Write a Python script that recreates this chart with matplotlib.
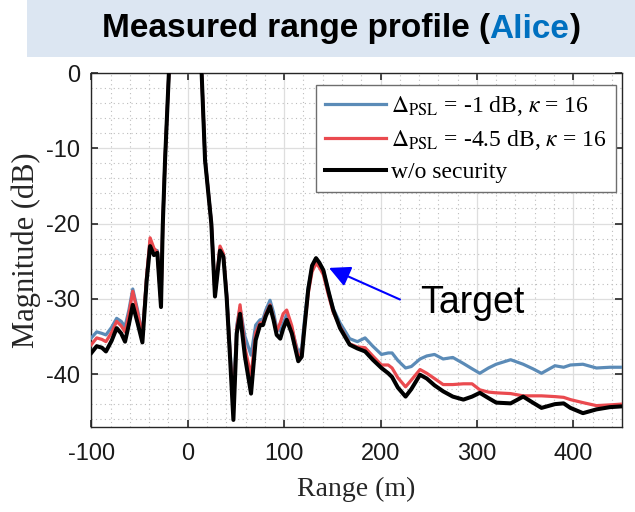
import matplotlib
matplotlib.use("Agg")
import matplotlib.pyplot as plt
from matplotlib.patches import Rectangle
from matplotlib.ticker import MultipleLocator

# ---------------- data ----------------
range_m = [-100, -94.4, -89, -84.8, -79, -73.7, -69, -65, -61, -57, -52, -47, -42.5, -39, -35,
           -31.5, -27.7, -25.9, -23.5, -19, -3, 14, 18, 24.5, 28.3, 33.5, 37, 40.5, 44, 47.4,
           50.9, 54.3, 59.4, 65.7, 70.5, 75, 78, 81, 85.4, 89, 92.3, 96, 99, 102.7, 108, 114.7,
           118.3, 121, 125, 129, 133.1, 136.5, 140.7, 146, 151, 158, 168, 176, 184, 192, 201, 208,
           212, 218, 226, 232, 241, 248, 256, 265, 275, 286, 295, 303, 312, 320, 335, 348, 358,
           367, 381, 390, 397, 410, 424, 438, 450]

mag_weak = [-35.2, -34.4, -34.6, -34.8, -33.8, -32.6, -33.0, -33.7, -31.5, -28.7, -31.5, -35.0, -27.0, -22.3, -23.5,
            -23.6, -30.5, -20.2, -11.4, 1.5, 25, 1.5, -11.4, -19.8, -29.5, -23.3, -24.2, -29.5, -37.0, -43.5,
            -33.5, -31.2, -35.0, -37.5, -33.5, -32.8, -32.7, -31.5, -30.2, -31.8, -33.9, -34.3, -33.3, -32.1, -34.0, -37.2,
            -36.5, -33.0, -28.5, -25.8, -24.7, -25.2, -26.2, -29.0, -31.3, -33.2, -35.3, -35.7, -35.2, -36.3, -37.4, -37.2,
            -37.2, -38.2, -39.2, -39.0, -38.0, -37.6, -37.4, -38.0, -37.8, -38.6, -39.3, -39.9, -39.2, -38.7, -38.1, -38.7, -39.3,
            -39.9, -38.9, -39.1, -38.8, -38.7, -39.2, -39.1, -39.1]

mag_strong = [-36.1, -35.2, -35.4, -35.7, -34.5, -33.0, -33.6, -34.4, -32.0, -29.0, -31.8, -35.0, -26.8, -21.9, -23.3,
              -23.8, -30.7, -20.3, -11.5, 1.5, 25, 1.5, -11.5, -19.9, -29.3, -23.0, -24.0, -29.7, -37.5, -45.0,
              -34.0, -30.8, -36.5, -40.3, -34.5, -33.2, -33.2, -32.0, -30.8, -32.5, -34.3, -33.2, -32.0, -31.5, -33.6, -37.8,
              -37.2, -33.8, -29.3, -26.4, -25.3, -25.8, -26.8, -29.5, -31.8, -33.7, -36.0, -36.4, -36.5, -37.6, -38.8, -38.8,
              -39.2, -40.5, -41.7, -40.8, -39.4, -39.9, -40.6, -41.4, -41.4, -41.3, -41.3, -42.1, -42.4, -42.5, -42.6, -42.9, -42.9,
              -42.9, -43.0, -43.1, -43.4, -43.8, -44.2, -44.1, -44.0]

mag_nosec = [-37.2, -36.3, -36.5, -37.0, -35.6, -33.9, -34.6, -35.7, -33.4, -30.8, -33.2, -35.8, -27.5, -23.0, -24.2,
             -23.9, -31.1, -20.4, -11.6, 1.5, 25, 1.5, -11.6, -20.0, -29.7, -23.6, -24.4, -30.0, -38.0, -46.1,
             -34.6, -32.0, -37.7, -42.6, -35.5, -33.5, -33.5, -32.3, -31.0, -32.8, -34.8, -35.3, -34.0, -32.8, -34.6, -38.3,
             -37.7, -34.0, -28.8, -25.6, -24.6, -25.2, -26.2, -29.0, -31.5, -33.9, -36.1, -36.6, -37.0, -38.1, -39.2, -39.9,
             -40.4, -41.8, -43.0, -42.0, -40.1, -40.6, -41.5, -42.3, -43.0, -43.4, -43.0, -42.5, -43.2, -43.8, -43.9, -43.0, -43.8,
             -44.5, -44.0, -43.9, -44.5, -45.2, -44.7, -44.4, -44.3]

series_labels = [r"$\Delta_{\mathrm{PSL}}$ = -1 dB, $\kappa$ = 16",
                 r"$\Delta_{\mathrm{PSL}}$ = -4.5 dB, $\kappa$ = 16",
                 "w/o security"]
x_ticks = [-100, 0, 100, 200, 300, 400]
y_ticks = [0, -10, -20, -30, -40]

# ---------------- figure ----------------
plt.rcParams["mathtext.fontset"] = "stix"
plt.rcParams["axes.unicode_minus"] = False
W, H = 635, 512
fig = plt.figure(figsize=(W / 100, H / 100), dpi=100)

# title banner
fig.patches.append(Rectangle((27 / W, 1 - 57 / H), 1, 57 / H, transform=fig.transFigure,
                             facecolor="#dce6f2", edgecolor="none", zorder=0))

L, R, T, B = 91.3, 621.5, 73, 426.7
ax = fig.add_axes([L / W, 1 - B / H, (R - L) / W, (B - T) / H])

ax.plot(range_m, mag_weak, color="#5b8bb7", lw=2.3, label=series_labels[0], zorder=3)
ax.plot(range_m, mag_strong, color="#ea4a4f", lw=2.3, label=series_labels[1], zorder=4)
ax.plot(range_m, mag_nosec, color="black", lw=2.9, label=series_labels[2], zorder=5)

ax.set_xlim(-100, 450)
ax.set_ylim(-47, 0)
ax.set_xticks(x_ticks)
ax.set_yticks(y_ticks)
ax.xaxis.set_minor_locator(MultipleLocator(20))
ax.yaxis.set_minor_locator(MultipleLocator(2))
ax.grid(which="major", color="#dedede", lw=0.9, ls="-")
ax.grid(which="minor", color="#bdbdbd", lw=0.8, ls=(0, (1, 3)))
ax.set_axisbelow(True)
ax.tick_params(which="major", direction="in", length=5, width=1.2, top=True, right=True,
               color="#262626", labelsize=17)
ax.tick_params(axis="x", which="major", pad=12)
ax.tick_params(axis="y", which="major", pad=8)
ax.tick_params(which="minor", length=0)
for lab in ax.get_xticklabels() + ax.get_yticklabels():
    lab.set_fontfamily("Liberation Sans")
    lab.set_color("#1a1a1a")
for s in ax.spines.values():
    s.set_color("#262626")
    s.set_linewidth(1.0)

ax.set_xlabel("Range (m)", fontfamily="Liberation Serif", fontsize=20, color="#262626", labelpad=8)
ax.set_ylabel("Magnitude (dB)", fontfamily="Liberation Serif", fontsize=22, color="#262626", labelpad=4)

leg = ax.legend(loc="upper right", bbox_to_anchor=(616 / W, 1 - 85 / H), bbox_transform=fig.transFigure,
                borderaxespad=0, prop={"family": "Liberation Serif", "size": 17}, frameon=True,
                fancybox=False, edgecolor="#6e6e6e", framealpha=1, handlelength=2.6,
                handletextpad=0.2, labelspacing=0.4, borderpad=0.4)
leg.get_frame().set_linewidth(1.0)
leg.set_zorder(10)

# annotation
ax.annotate("", xy=(146.6, -25.9), xytext=(220.2, -30.1),
            arrowprops=dict(arrowstyle="-|>,head_length=0.8,head_width=0.4", mutation_scale=16,
                            color="blue", lw=1.5, shrinkA=0, shrinkB=0), zorder=6)
ax.text(241, -31.9, "Target", fontfamily="Liberation Sans", fontsize=27, color="black",
        va="baseline", ha="left", zorder=6)

# title in pieces
renderer = fig.canvas.get_renderer()
parts = [("Measured range profile (", "black"), ("Alice", "#0070c0"), (")", "black")]
tkw = dict(fontfamily="Liberation Sans", fontweight="bold", fontsize=24, va="center", ha="left")
texts = [fig.text(0, 0, p, color=c, **tkw) for p, c in parts]
widths = [t.get_window_extent(renderer).width for t in texts]
x = 341 - sum(widths) / 2
for t, w in zip(texts, widths):
    t.set_position((x / W, 1 - 29 / H))
    x += w

fig.savefig("out.png", dpi=100)
